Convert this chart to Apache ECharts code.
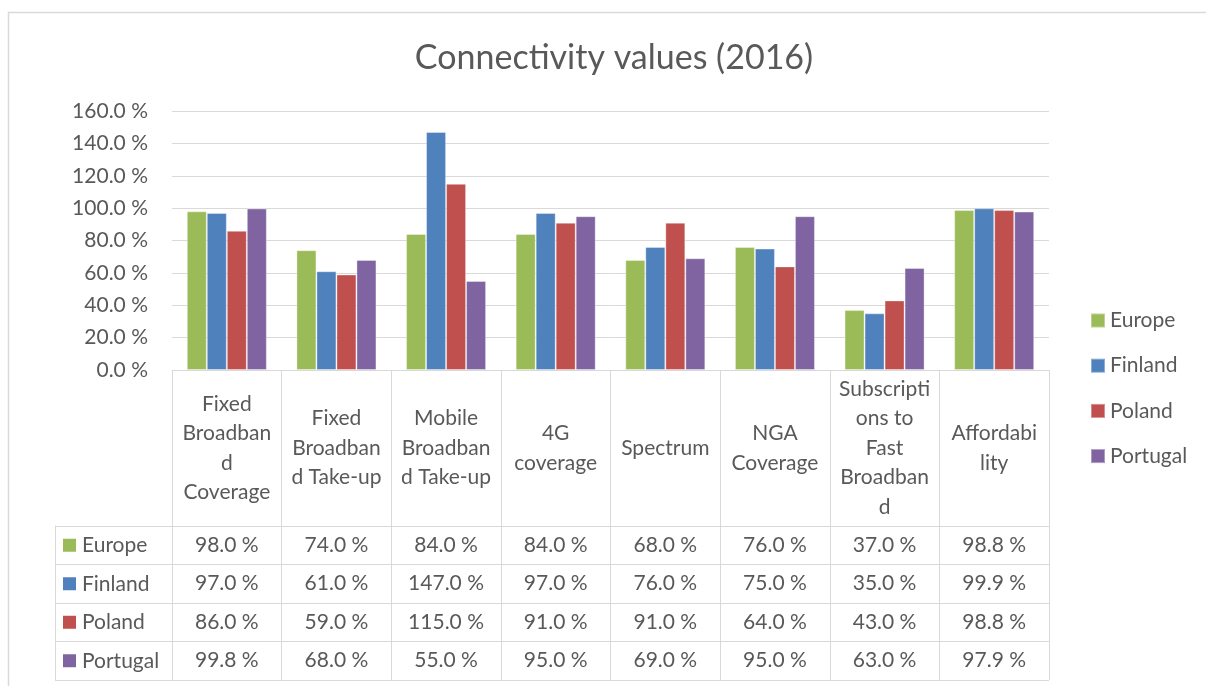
<!DOCTYPE html>
<html>
<head>
<meta charset="utf-8">
<style>
  html, body { margin: 0; padding: 0; background: #fff; }
  #chart { width: 1206px; height: 686px; }
</style>
<script src="https://cdn.jsdelivr.net/npm/echarts@6/dist/echarts.min.js"></script>
</head>
<body>
<div id="chart"></div>
<script>
// data (percent)
var categories = ['Fixed Broadband Coverage', 'Fixed Broadband Take-up', 'Mobile Broadband Take-up',
  '4G coverage', 'Spectrum', 'NGA Coverage', 'Subscriptions to Fast Broadband', 'Affordability']
// header text wrapped the way the table shows it
var categoryLabels = ['Fixed\nBroadban\nd\nCoverage', 'Fixed\nBroadban\nd Take-up', 'Mobile\nBroadban\nd Take-up',
  '4G\ncoverage', 'Spectrum', 'NGA\nCoverage', 'Subscripti\nons to\nFast\nBroadban\nd', 'Affordabi\nlity']
var seriesNames = ['Europe', 'Finland', 'Poland', 'Portugal']
var europe = [98.0, 74.0, 84.0, 84.0, 68.0, 76.0, 37.0, 98.8]
var finland = [97.0, 61.0, 147.0, 97.0, 76.0, 75.0, 35.0, 99.9]
var poland = [86.0, 59.0, 115.0, 91.0, 91.0, 64.0, 43.0, 98.8]
var portugal = [99.8, 68.0, 55.0, 95.0, 69.0, 95.0, 63.0, 97.9]
var yTicks = [0, 20, 40, 60, 80, 100, 120, 140, 160]

var colors = ['#9BBB59', '#4F81BD', '#C0504D', '#8064A2']
var values = [europe, finland, poland, portugal]
var textColor = '#595959'
var lineColor = '#d9d9d9'
var font = 'Lato'

function pct(v) {
  return Number(v).toFixed(1) + ' %'
}

var chart = echarts.init(document.getElementById('chart'))

// one axis per table row, values shown as labels under each category
var tableAxes = values.map(function (arr, i) {
  return {
    type: 'category',
    gridIndex: 0,
    position: 'bottom',
    offset: 175 + i * 38.5,
    data: arr.map(pct),
    axisLine: { show: false },
    axisTick: { show: false },
    axisLabel: {
      interval: 0,
      margin: 0,
      verticalAlign: 'middle',
      fontFamily: font,
      fontSize: 21,
      color: textColor
    }
  }
})

var rowRich = { t: { fontFamily: font, fontSize: 21, color: textColor, padding: [0, 0, 0, 6] } }
colors.forEach(function (c, i) {
  rowRich['s' + i] = { width: 13, height: 13, backgroundColor: c }
})

var option = {
  backgroundColor: '#fff',
  animation: false,
  title: {
    text: 'Connectivity values (2016)',
    left: 614,
    textAlign: 'center',
    top: 41,
    padding: 0,
    textStyle: { fontFamily: font, fontSize: 34, fontWeight: 'normal', color: textColor }
  },
  legend: {
    data: seriesNames,
    orient: 'vertical',
    left: 1090,
    top: 310,
    padding: 0,
    icon: 'rect',
    itemWidth: 14,
    itemHeight: 14,
    itemGap: 24.2,
    textStyle: { fontFamily: font, fontSize: 21, color: textColor, lineHeight: 20 }
  },
  graphic: [{
    type: 'rect',
    shape: { x: 8.5, y: 12.5, width: 1400, height: 1000 },
    style: { fill: 'none', stroke: lineColor, lineWidth: 1.5 },
    silent: true
  }],
  grid: [
    { left: 172, right: 157, top: 111, bottom: 316 },
    { left: 55, right: 157, top: 526, bottom: 6 }
  ],
  xAxis: [{
    type: 'category',
    gridIndex: 0,
    data: categoryLabels,
    axisLine: { show: true, lineStyle: { color: lineColor } },
    axisTick: { show: true, interval: 0, length: 310, lineStyle: { color: lineColor } },
    axisLabel: {
      interval: 0,
      margin: 78,
      verticalAlign: 'middle',
      align: 'center',
      lineHeight: 29.5,
      fontFamily: font,
      fontSize: 21,
      color: textColor
    }
  }].concat(tableAxes).concat([{
    type: 'value',
    gridIndex: 1,
    show: false
  }]),
  yAxis: [{
    type: 'value',
    gridIndex: 0,
    min: 0,
    max: yTicks[yTicks.length - 1],
    interval: yTicks[1] - yTicks[0],
    axisLine: { show: false },
    axisTick: { show: false },
    splitLine: { lineStyle: { color: lineColor } },
    axisLabel: {
      margin: 24,
      fontFamily: font,
      fontSize: 21,
      color: textColor,
      formatter: pct
    }
  }, {
    type: 'category',
    gridIndex: 1,
    inverse: true,
    data: seriesNames,
    axisLine: { show: true, lineStyle: { color: lineColor } },
    axisTick: { show: false },
    splitLine: { show: true, lineStyle: { color: lineColor } },
    axisLabel: {
      align: 'left',
      margin: -8,
      formatter: function (v, i) { return '{s' + i + '|}{t|' + v + '}' },
      rich: rowRich
    }
  }],
  series: values.map(function (arr, i) {
    return {
      name: seriesNames[i],
      type: 'bar',
      xAxisIndex: 0,
      yAxisIndex: 0,
      barGap: '0%',
      barCategoryGap: '27%',
      itemStyle: { color: colors[i], borderColor: 'rgba(255,255,255,0.35)', borderWidth: 1 },
      data: arr
    }
  })
}

chart.setOption(option)
</script>
</body>
</html>
